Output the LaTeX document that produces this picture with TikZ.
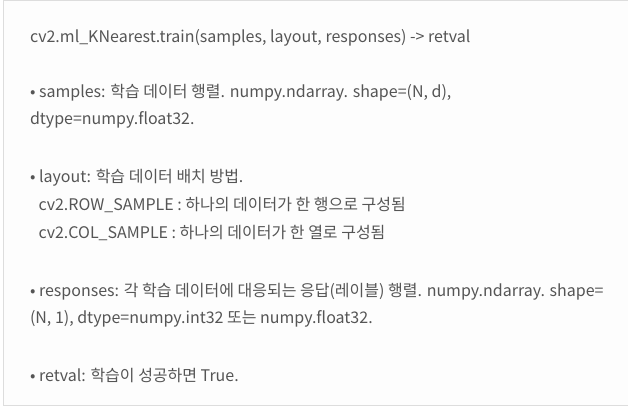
\documentclass[tikz,border=0pt]{standalone}
\usepackage{fontspec}
\setmainfont{Noto Sans CJK KR}
\definecolor{txt}{HTML}{555555}
\definecolor{frame}{HTML}{DDDDDD}
\definecolor{panel}{HTML}{FDFDFD}
\tikzset{
  line/.style={anchor=base west, inner sep=0pt, outer sep=0pt, text=txt, font=\fontsize{16}{27}\selectfont},
}
\begin{document}
\begin{tikzpicture}[x=1pt,y=-1pt]
\useasboundingbox (0,0) rectangle (628,409);
\clip (0,0) rectangle (628,409);
\fill[white] (0,0) rectangle (628,409);
\draw[frame, fill=panel, line width=1.2pt] (3.6,0.6) rectangle (660,405.6);
\node[line] (l1) at (30,42.7) {cv2.ml\_KNearest.train(samples, layout, responses) -> retval};
\node[line] (l2) at (30,97.3) {• samples: 학습 데이터 행렬. numpy.ndarray. shape=(N, d),};
\node[line] (l3) at (30,124.7) {dtype=numpy.float32.};
\node[line] (l4) at (30,182.7) {• layout: 학습 데이터 배치 방법.};
\node[line] (l5) at (38.5,210.7) {cv2.ROW\_SAMPLE : 하나의 데이터가 한 행으로 구성됨};
\node[line] (l6) at (38.5,238) {cv2.COL\_SAMPLE : 하나의 데이터가 한 열로 구성됨};
\node[line] (l7) at (30,296) {• responses: 각 학습 데이터에 대응되는 응답(레이블) 행렬. numpy.ndarray. shape=};
\node[line] (l8) at (30,323.3) {(N, 1), dtype=numpy.int32 또는 numpy.float32.};
\node[line] (l9) at (30,381.7) {• retval: 학습이 성공하면 True.};
\end{tikzpicture}
\end{document}
